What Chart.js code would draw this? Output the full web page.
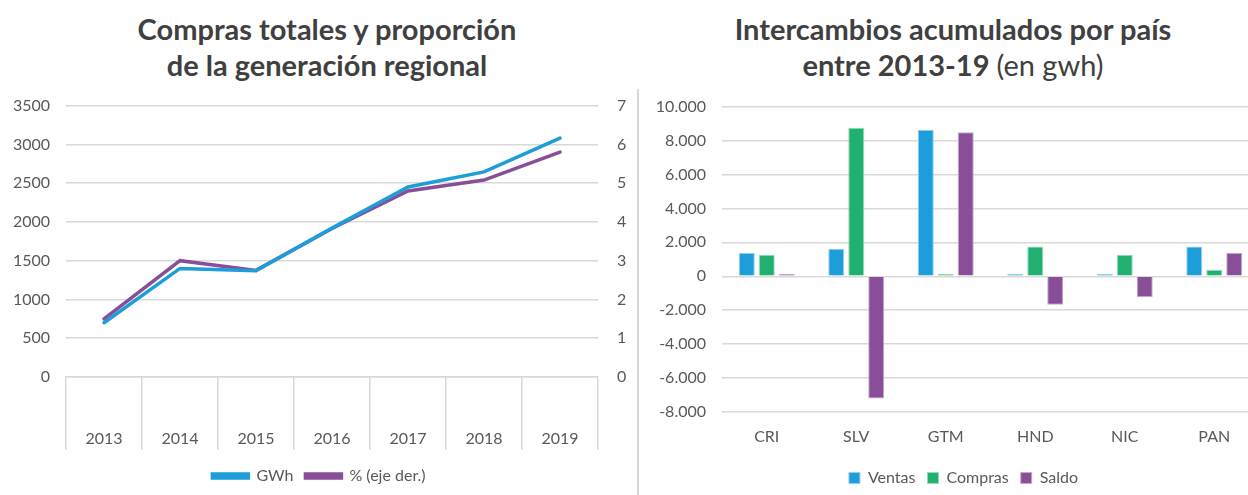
<!DOCTYPE html>
<html lang="es">
<head>
<meta charset="utf-8">
<title>Compras e intercambios regionales</title>
<script src="https://cdn.jsdelivr.net/npm/chart.js@4/dist/chart.umd.min.js"></script>
<style>
  html, body { margin: 0; padding: 0; background: #fff; overflow: hidden; }
  body { width: 1248px; height: 495px; position: relative; font-family: Lato, sans-serif; }
  .titulo {
    position: absolute; top: 11px; text-align: center;
    font-size: 29px; line-height: 36px; font-weight: 700; color: #404040;
  }
  .titulo .normal { font-weight: 400; }
  #tituloCompras { left: 0; width: 654px; }
  #tituloIntercambios { left: 640px; width: 626px; }
  .separador { position: absolute; left: 637px; top: 89px; width: 2px; height: 406px; background: #d9d9d9; }
  #compras { position: absolute; left: 0; top: 77px; }
  #intercambios { position: absolute; left: 640px; top: 81px; }
</style>
</head>
<body>
<div class="titulo" id="tituloCompras">Compras totales y proporción<br>de la generación regional</div>
<div class="titulo" id="tituloIntercambios">Intercambios acumulados por país<br>entre 2013-19 <span class="normal">(en gwh)</span></div>
<div class="separador"></div>
<canvas id="compras" width="638" height="417"></canvas>
<canvas id="intercambios" width="630" height="415"></canvas>

<script>
// Compras totales (GWh) y proporcion de la generacion regional (%)
var anios = ['2013', '2014', '2015', '2016', '2017', '2018', '2019'];
var comprasGwh = [700, 1400, 1370, 1920, 2450, 2645, 3080];
var proporcion = [1.5, 3.0, 2.75, 3.83, 4.8, 5.08, 5.8];

// Intercambios acumulados 2013-19 por pais (GWh)
var paises = ['CRI', 'SLV', 'GTM', 'HND', 'NIC', 'PAN'];
var ventas = [1370, 1620, 8630, 140, 140, 1760];
var compras = [1270, 8750, 140, 1760, 1270, 380];
var saldo = [140, -7210, 8490, -1680, -1230, 1390];

var AZUL = '#1d9dd9';
var VERDE = '#21b070';
var MORADO = '#884e98';
var GRIS_TEXTO = '#595959';
var GRIS_LINEA = '#d9d9d9';

var fuenteTicks = { family: 'Lato', size: 16 };

// 10000 -> "10.000"
function conPuntos(v) {
  var s = String(Math.abs(v)).replace(/\B(?=(\d{3})+(?!\d))/g, '.');
  return (v < 0 ? '-' : '') + s;
}

// corre la leyenda unos px a la derecha (queda centrada bajo las barras)
var moverLeyenda = {
  id: 'moverLeyenda',
  afterLayout: function (chart) {
    chart.legend.left += 14;
    chart.legend.right += 14;
  }
};

var graficoCompras = new Chart(document.getElementById('compras'), {
  type: 'line',
  data: {
    labels: anios,
    datasets: [
      {
        label: 'GWh',
        data: comprasGwh,
        yAxisID: 'y',
        borderColor: AZUL,
        backgroundColor: AZUL,
        borderWidth: 3.5,
        borderCapStyle: 'round',
        pointRadius: 0,
        tension: 0
      },
      {
        label: '% (eje der.)',
        data: proporcion,
        yAxisID: 'y1',
        borderColor: MORADO,
        backgroundColor: MORADO,
        borderWidth: 3.5,
        borderCapStyle: 'round',
        pointRadius: 0,
        tension: 0
      }
    ]
  },
  options: {
    responsive: false,
    animation: false,
    devicePixelRatio: 1,
    layout: { padding: { top: 0, bottom: 0 } },
    plugins: {
      tooltip: { enabled: false },
      legend: {
        position: 'bottom',
        labels: {
          boxWidth: 36,
          boxHeight: 4,
          color: GRIS_TEXTO,
          font: fuenteTicks,
          padding: 12
        }
      }
    },
    scales: {
      x: {
        offset: true,
        grid: {
          offset: true,
          drawOnChartArea: false,
          tickLength: 73,
          color: GRIS_LINEA,
          lineWidth: 1.5
        },
        border: { color: GRIS_LINEA, width: 1.5 },
        ticks: { color: GRIS_TEXTO, font: fuenteTicks, padding: -21, maxRotation: 0 },
        afterFit: function (scale) { scale.height = 79; }
      },
      y: {
        min: 0,
        max: 3500,
        ticks: {
          stepSize: 500,
          color: GRIS_TEXTO,
          font: fuenteTicks,
          padding: 16,
          callback: function (v) { return String(v); }
        },
        grid: { color: GRIS_LINEA, lineWidth: 1.5, drawTicks: false },
        border: { display: false },
        afterFit: function (scale) { scale.width = 66; }
      },
      y1: {
        position: 'right',
        min: 0,
        max: 7,
        ticks: { stepSize: 1, color: GRIS_TEXTO, font: fuenteTicks, padding: 19 },
        grid: { drawOnChartArea: false, drawTicks: false },
        border: { display: false },
        afterFit: function (scale) { scale.width = 40; }
      }
    }
  }
});

var graficoIntercambios = new Chart(document.getElementById('intercambios'), {
  type: 'bar',
  data: {
    labels: paises,
    datasets: [
      { label: 'Ventas', data: ventas, backgroundColor: AZUL, borderColor: '#8fd0ee', borderWidth: 1 },
      { label: 'Compras', data: compras, backgroundColor: VERDE, borderColor: '#92dbb8', borderWidth: 1 },
      { label: 'Saldo', data: saldo, backgroundColor: MORADO, borderColor: '#c6a9cd', borderWidth: 1 }
    ]
  },
  plugins: [moverLeyenda],
  options: {
    responsive: false,
    animation: false,
    devicePixelRatio: 1,
    layout: { padding: { top: 0, right: 11, bottom: 0 } },
    datasets: {
      bar: { categoryPercentage: 0.67, barPercentage: 0.8 }
    },
    plugins: {
      tooltip: { enabled: false },
      legend: {
        position: 'bottom',
        labels: {
          boxWidth: 11,
          boxHeight: 11,
          color: GRIS_TEXTO,
          font: fuenteTicks,
          padding: 12
        }
      }
    },
    scales: {
      x: {
        grid: { display: false },
        border: { display: false },
        ticks: { color: GRIS_TEXTO, font: fuenteTicks, padding: 7, maxRotation: 0 },
        afterFit: function (scale) { scale.height = 46; }
      },
      y: {
        min: -8000,
        max: 10000,
        ticks: {
          stepSize: 2000,
          color: GRIS_TEXTO,
          font: fuenteTicks,
          padding: 16,
          callback: function (v) { return conPuntos(v); }
        },
        grid: { color: GRIS_LINEA, lineWidth: 1.5, drawTicks: false },
        border: { display: false },
        afterFit: function (scale) { scale.width = 82; }
      }
    }
  }
});
</script>
</body>
</html>
